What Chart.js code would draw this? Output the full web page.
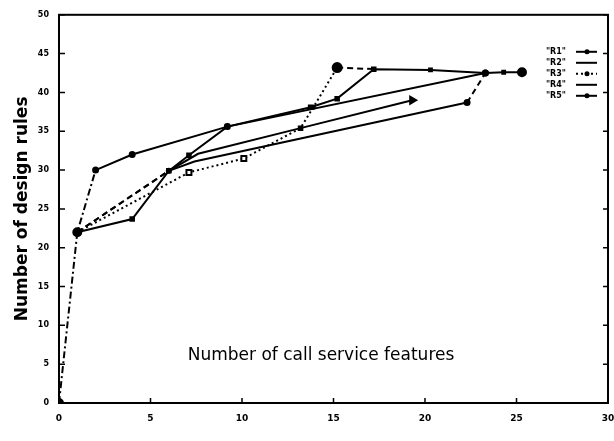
<!DOCTYPE html>
<html>
<head>
<meta charset="utf-8">
<script src="https://cdn.jsdelivr.net/npm/chart.js@4.4.1/dist/chart.umd.min.js"></script>
<style>
html,body{margin:0;padding:0;background:#fff;}
#wrap{width:614px;height:441px;}
</style>
</head>
<body>
<div id="wrap"><canvas id="myChart" width="614" height="441"></canvas></div>
<script>
'use strict';

// data
const seriesNames=['"R1"','"R2"','"R3"','"R4"','"R5"'];

const r1x=[0,1,2,4,9.2,23.3];
const r1y=[0,22,30,32,35.6,42.5];

const r2x=[1,4,6,7.1,9.2,13.75,15.2,17.2,20.3,23.3,24.3,25.3];
const r2y=[22,23.7,29.9,31.9,35.6,38.1,39.2,43,42.9,42.5,42.6,42.6];

const r3x=[1,7.1,10.1,13.2,13.9,15.2,17.2];
const r3y=[22,29.7,31.5,35.4,38.1,43.2,43];

const r4x=[1,6,7.6,13.2,19.3];
const r4y=[22,29.9,32.1,35.4,39];

const r5x=[1,6,7.4,22.3,23.3];
const r5y=[22,29.9,31.1,38.7,42.5];

const xTickValues=[0,5,10,15,20,25,30];
const yTickValues=[0,5,10,15,20,25,30,35,40,45,50];

const xTitle='Number of call service features';
const yTitle='Number of design rules';

function pts(xs,ys){
  return xs.map((x,i)=>({x:x,y:ys[i]}));
}

function dashOn(list,dash){
  return ctx=>list.indexOf(ctx.p0DataIndex)>=0 ? dash : [];
}

const DASHDOT=[7,3,2,3];
const DOTTED=[2,3];
const DASHED=[6,4];

const datasets=[
  {
    label:seriesNames[0],
    data:pts(r1x,r1y),
    borderColor:'#000',
    backgroundColor:'#000',
    borderWidth:2,
    pointRadius:[4,4,2.5,2.5,2.5,2.5],
    segment:{borderDash:dashOn([0,1],DASHDOT)}
  },
  {
    label:seriesNames[1],
    data:pts(r2x,r2y),
    borderColor:'#000',
    backgroundColor:'#000',
    borderWidth:2,
    pointStyle:['rect','rect','rect','rect','rect','rect','rect','rect','rect','rect','rect','circle'],
    pointRadius:[0,2.5,2.5,2.5,2.5,2.5,2.5,2.5,2,2,2,4]
  },
  {
    label:seriesNames[2],
    data:pts(r3x,r3y),
    borderColor:'#000',
    backgroundColor:'#000',
    borderWidth:2,
    pointStyle:['circle','rect','rect','circle','circle','circle','circle'],
    pointRadius:[0,3.5,3.5,0,1.5,4.5,0],
    pointBackgroundColor:['#000','#fff','#fff','#000','#000','#000','#000'],
    pointBorderWidth:2,
    borderDash:DOTTED,
    segment:{borderDash:ctx=>ctx.p0DataIndex===5 ? DASHED : DOTTED}
  },
  {
    label:seriesNames[3],
    data:pts(r4x,r4y),
    borderColor:'#000',
    backgroundColor:'#000',
    borderWidth:2,
    pointStyle:['circle','circle','circle','rect','triangle'],
    pointRotation:90,
    pointRadius:[0,2,0,2.5,4],
    segment:{borderDash:dashOn([0],DASHED)}
  },
  {
    label:seriesNames[4],
    data:pts(r5x,r5y),
    borderColor:'#000',
    backgroundColor:'#000',
    borderWidth:2,
    pointRadius:[0,0,0,2.5,2.5],
    segment:{borderDash:dashOn([0,3],DASHED)}
  }
];

// box round the plot with small inward ticks, like the old plot
const framePlugin={
  id:'frame',
  afterDatasetsDraw(chart){
    const c=chart.ctx;
    const a=chart.chartArea;
    const xs=chart.scales.x;
    const ys=chart.scales.y;
    c.save();
    c.strokeStyle='#000';
    c.lineWidth=2;
    c.strokeRect(a.left,a.top,a.right-a.left,a.bottom-a.top);
    c.lineWidth=1.5;
    c.beginPath();
    yTickValues.forEach(v=>{
      const p=ys.getPixelForValue(v);
      c.moveTo(a.left,p);c.lineTo(a.left+6,p);
      c.moveTo(a.right,p);c.lineTo(a.right-5,p);
    });
    xTickValues.forEach(v=>{
      const p=xs.getPixelForValue(v);
      c.moveTo(p,a.bottom);c.lineTo(p,a.bottom-5);
    });
    c.stroke();
    c.restore();
  }
};

// x title sits inside the plot, legend in the top right corner
const textPlugin={
  id:'texts',
  afterDraw(chart){
    const c=chart.ctx;
    const a=chart.chartArea;
    c.save();
    c.fillStyle='#000';
    c.font='17px "DejaVu Sans"';
    c.textAlign='center';
    c.textBaseline='middle';
    c.fillText(xTitle,a.left+262,a.top+341);

    c.font='bold 8px "DejaVu Sans"';
    c.textAlign='right';
    chart.data.datasets.forEach((ds,i)=>{
      const y=a.top+37+i*11;
      c.fillText(ds.label,a.right-42,y);
      c.strokeStyle='#000';
      c.lineWidth=2;
      c.setLineDash(i===2 ? DOTTED : []);
      c.beginPath();
      c.moveTo(a.right-32,y);
      c.lineTo(a.right-11,y);
      c.stroke();
      c.setLineDash([]);
      if(i!==1 && i!==3){
        c.beginPath();
        c.arc(a.right-21,y,2.5,0,Math.PI*2);
        c.fill();
      }
    });
    c.restore();
  }
};

const ctx=document.getElementById('myChart').getContext('2d');
const myChart=new Chart(ctx,{
  type:'line',
  data:{datasets:datasets},
  options:{
    responsive:false,
    animation:false,
    layout:{padding:{left:12,top:14,right:5,bottom:0}},
    plugins:{legend:{display:false},tooltip:{enabled:false}},
    scales:{
      x:{
        type:'linear',
        min:0,
        max:30,
        afterBuildTicks:s=>{s.ticks=xTickValues.map(v=>({value:v}));},
        afterFit:s=>{s.height=38;s.paddingLeft=0;s.paddingRight=0;},
        grid:{display:false,drawTicks:false},
        border:{display:false},
        ticks:{color:'#000',padding:10,maxRotation:0,font:{family:'DejaVu Sans',size:9,weight:'bold'}}
      },
      y:{
        type:'linear',
        min:0,
        max:50,
        afterBuildTicks:s=>{s.ticks=yTickValues.map(v=>({value:v}));},
        afterFit:s=>{s.width=47;},
        grid:{display:false,drawTicks:false},
        border:{display:false},
        title:{display:true,text:yTitle,color:'#000',padding:0,font:{family:'DejaVu Sans',size:17,weight:'bold'}},
        ticks:{color:'#000',padding:10,font:{family:'DejaVu Sans',size:8,weight:'bold'}}
      }
    }
  },
  plugins:[framePlugin,textPlugin]
});
</script>
</body>
</html>
